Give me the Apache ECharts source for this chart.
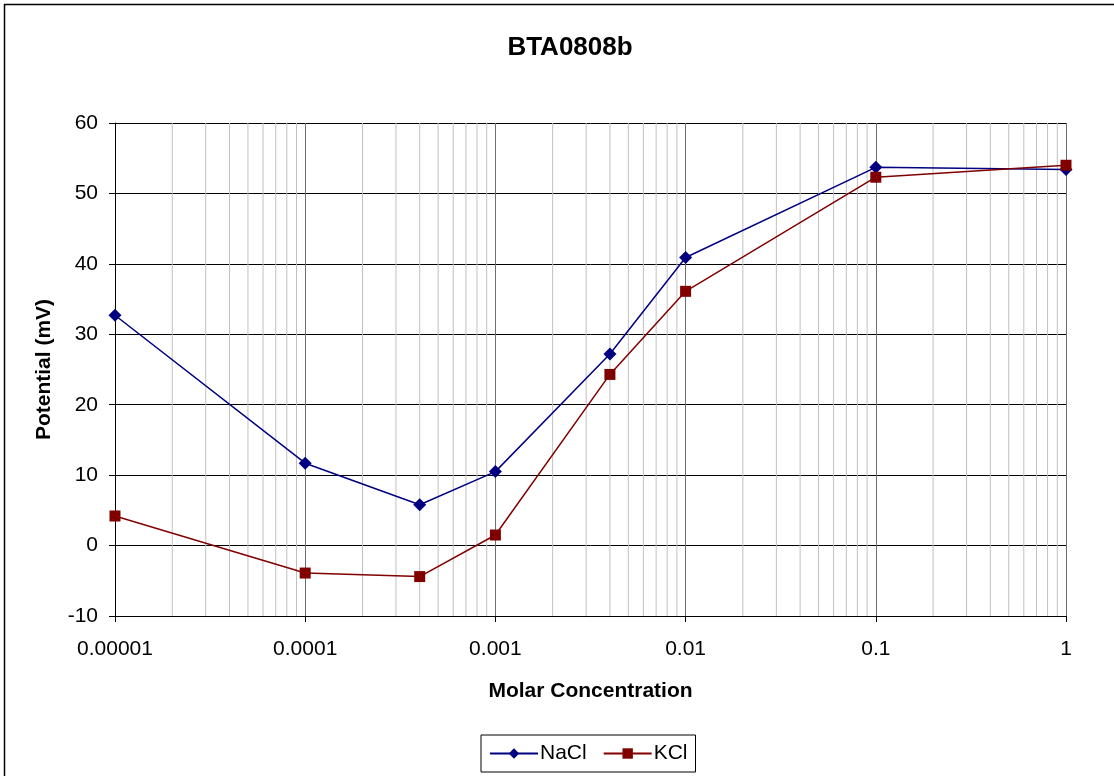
<!DOCTYPE html>
<html>
<head>
<meta charset="utf-8">
<script src="https://cdn.jsdelivr.net/npm/echarts@6/dist/echarts.min.js"></script>
<style>
html,body{margin:0;padding:0;background:#fff;}
#chart{width:1114px;height:776px;}
</style>
</head>
<body>
<div id="chart"></div>
<script>
const concentrations = [0.00001, 0.0001, 0.0004, 0.001, 0.004, 0.01, 0.1, 1];
const naclValues = [32.7, 11.7, 5.8, 10.5, 27.2, 40.9, 53.7, 53.4];
const kclValues = [4.2, -3.9, -4.4, 1.5, 24.3, 36.1, 52.3, 54.0];
const xTickValues = [0.00001, 0.0001, 0.001, 0.01, 0.1, 1];
const xTickLabels = ['0.00001', '0.0001', '0.001', '0.01', '0.1', '1'];
const yTickLabels = [-10, 0, 10, 20, 30, 40, 50, 60];
const yMin = -10, yMax = 60;

const minorGrid = [];
for (let d = 0; d < xTickValues.length - 1; d++) {
  for (let k = 2; k <= 9; k++) minorGrid.push(k * xTickValues[d]);
}

const font = 'Liberation Sans, Arial, sans-serif';
const minorSeries = minorGrid.map(v => ({
  name: 'minor', type: 'line', silent: true, z: 1,
  data: [[v, yMin], [v, yMax]], symbol: 'none',
  lineStyle: {color: '#c0c0c0', width: 1}, animation: false,
  emphasis: {disabled: true}
}));

const chart = echarts.init(document.getElementById('chart'));
chart.setOption({
  animation: false,
  backgroundColor: '#fff',
  title: {
    text: 'BTA0808b', left: 565, top: 30, textAlign: 'center',
    textStyle: {fontFamily: font, fontSize: 26, fontWeight: 'bold', color: '#000'}
  },
  graphic: [{
    type: 'rect', shape: {x: 4.5, y: 4.5, width: 1300, height: 900},
    style: {fill: 'none', stroke: '#000', lineWidth: 1.5}, silent: true, z: -10
  }],
  legend: {
    bottom: 4, left: 481,
    data: ['NaCl', 'KCl'],
    itemWidth: 48, itemHeight: 13, itemGap: 16,
    borderColor: '#000', borderWidth: 1, borderRadius: 0,
    padding: [8, 8, 8, 8],
    textStyle: {fontFamily: font, fontSize: 21, color: '#000', padding: [0, 0, 0, -3]}
  },
  grid: {left: 115, right: 48, top: 123, bottom: 160, containLabel: false},
  xAxis: {
    type: 'log', logBase: 10, min: 0.00001, max: 1,
    name: 'Molar Concentration', nameLocation: 'middle', nameGap: 65,
    nameTextStyle: {fontFamily: font, fontSize: 21, fontWeight: 'bold', color: '#000'},
    axisLine: {show: true, onZero: false, lineStyle: {color: '#000', width: 1}},
    axisTick: {show: true, inside: false, length: 6, lineStyle: {color: '#000'}},
    axisLabel: {
      fontFamily: font, fontSize: 21, color: '#000', margin: 23,
      formatter: function (v) {
        let best = 0, bd = Infinity;
        xTickValues.forEach((t, i) => {
          const dd = Math.abs(Math.log10(t) - Math.log10(v));
          if (dd < bd) { bd = dd; best = i; }
        });
        return xTickLabels[best];
      }
    },
    splitLine: {show: true, lineStyle: {color: '#6e6e6e', width: 1}},
    minorTick: {show: false},
    minorSplitLine: {show: false}
  },
  yAxis: {
    type: 'value', min: yMin, max: yMax, interval: 10,
    name: 'Potential (mV)', nameLocation: 'middle', nameGap: 60, nameRotate: 90,
    nameTextStyle: {fontFamily: font, fontSize: 21, fontWeight: 'bold', color: '#000'},
    axisLine: {show: true, lineStyle: {color: '#000', width: 1}},
    axisTick: {show: true, inside: false, length: 6, lineStyle: {color: '#000'}},
    axisLabel: {
      fontFamily: font, fontSize: 21, color: '#000', margin: 17,
      formatter: function (v) { return yTickLabels.includes(v) ? String(v) : ''; }
    },
    splitLine: {show: true, lineStyle: {color: '#000', width: 1}}
  },
  series: minorSeries.concat([
    {
      name: 'NaCl', type: 'line', z: 3,
      data: concentrations.map((c, i) => [c, naclValues[i]]),
      symbol: 'diamond', symbolSize: 13,
      lineStyle: {color: '#000080', width: 1.5},
      itemStyle: {color: '#000080'}
    },
    {
      name: 'KCl', type: 'line', z: 4,
      data: concentrations.map((c, i) => [c, kclValues[i]]),
      symbol: 'rect', symbolSize: 11,
      lineStyle: {color: '#800000', width: 1.5},
      itemStyle: {color: '#800000'}
    }
  ])
});
</script>
</body>
</html>
